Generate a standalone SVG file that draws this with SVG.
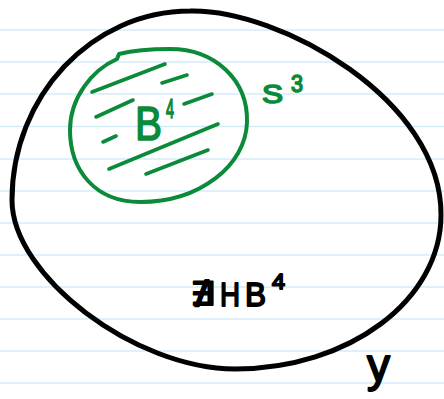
<svg xmlns="http://www.w3.org/2000/svg" width="444" height="399" viewBox="0 0 444 399">
  <style>
    .rule { stroke: #d3ebf8; stroke-width: 1.5; }
    .ink { fill: none; stroke: #000; stroke-width: 5; stroke-linecap: round; stroke-linejoin: round; }
    .gink { fill: none; stroke: #0b8a3a; stroke-width: 4; stroke-linecap: round; stroke-linejoin: round; }
    .hatch { fill: none; stroke: #0b8a3a; stroke-width: 3.6; stroke-linecap: round; }
    .gtxt { fill: #0b8a3a; stroke: #0b8a3a; stroke-width: 1.6; stroke-linejoin: round; font-family: "Liberation Sans", "DejaVu Sans", sans-serif; }
    .btxt { fill: #000; stroke: #000; stroke-width: 1.8; stroke-linejoin: round; font-family: "Liberation Sans", "DejaVu Sans", sans-serif; }
  </style>
  <rect width="444" height="399" fill="#fff"/>
  <g id="paper">
    <line class="rule" x1="0" y1="30" x2="444" y2="30"/>
    <line class="rule" x1="0" y1="62" x2="444" y2="62"/>
    <line class="rule" x1="0" y1="94" x2="444" y2="94"/>
    <line class="rule" x1="0" y1="126.5" x2="444" y2="126.5"/>
    <line class="rule" x1="0" y1="159" x2="444" y2="159"/>
    <line class="rule" x1="0" y1="191" x2="444" y2="191"/>
    <line class="rule" x1="0" y1="223" x2="444" y2="223"/>
    <line class="rule" x1="0" y1="255" x2="444" y2="255"/>
    <line class="rule" x1="0" y1="287" x2="444" y2="287"/>
    <line class="rule" x1="0" y1="319" x2="444" y2="319"/>
    <line class="rule" x1="0" y1="351" x2="444" y2="351"/>
    <line class="rule" x1="0" y1="383" x2="444" y2="383"/>
  </g>
  <g id="node-Y">
    <path class="ink" d="M 190 11 C 280 9, 442 100, 441 215 C 441 300, 349 369, 235 369 C 135 369, 12 276, 12 200 C 12 96, 92 11, 190 11 Z"/>
    <text class="btxt" x="367" y="381" font-size="46">y</text>
  </g>
  <g id="node-S3">
    <path class="gink" d="M 117 59 L 119 54 C 135 50, 152 49, 170 49 C 215 49, 248 80, 247 122 C 246 165, 200 202, 140 202 C 95 202, 70 170, 70 130 C 70 98, 92 70, 117 59"/>
    <line class="hatch" x1="92" y1="92" x2="165" y2="64"/>
    <line class="hatch" x1="162" y1="83" x2="187" y2="75"/>
    <line class="hatch" x1="96" y1="117" x2="133" y2="100"/>
    <line class="hatch" x1="184" y1="104" x2="212" y2="94"/>
    <line class="hatch" x1="103" y1="142" x2="116" y2="136"/>
    <line class="hatch" x1="109" y1="169" x2="218" y2="124"/>
    <line class="hatch" x1="146" y1="174" x2="208" y2="150"/>
    <text class="gtxt" x="135" y="140" font-size="48" textLength="27" lengthAdjust="spacingAndGlyphs">B</text>
    <text class="gtxt" x="166" y="118" font-size="27" textLength="8" lengthAdjust="spacingAndGlyphs">4</text>
    <text class="gtxt" x="262" y="103" font-size="26" textLength="21" lengthAdjust="spacingAndGlyphs">S</text>
    <text class="gtxt" x="291" y="92" font-size="24" textLength="12" lengthAdjust="spacingAndGlyphs">3</text>
  </g>
  <g id="node-HB">
    <text class="btxt" x="190" y="305" font-size="32" textLength="25" lengthAdjust="spacingAndGlyphs">∄</text>
    <text class="btxt" x="220" y="306" font-size="34" textLength="20" lengthAdjust="spacingAndGlyphs">H</text>
    <text class="btxt" x="245" y="306" font-size="34" textLength="21" lengthAdjust="spacingAndGlyphs">B</text>
    <text class="btxt" x="272" y="289" font-size="22" textLength="13" lengthAdjust="spacingAndGlyphs">4</text>
  </g>
  <g id="connectors"/>
</svg>
